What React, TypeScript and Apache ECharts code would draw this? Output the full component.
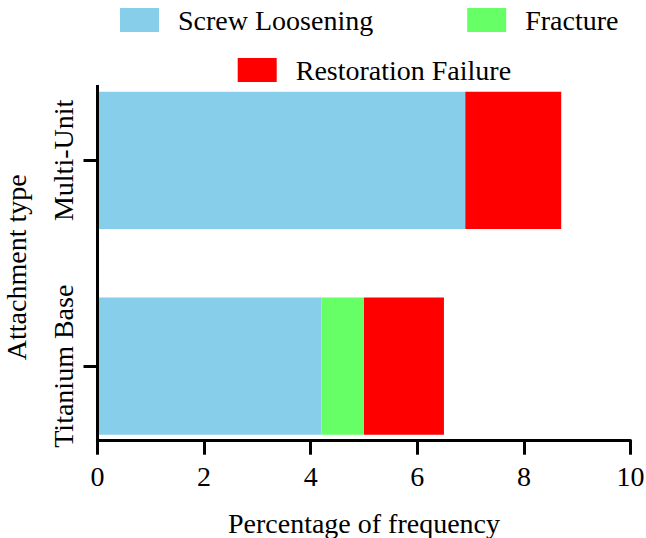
import React, { useEffect, useRef } from "react";
import * as echarts from "echarts";

const categories = ["Titanium Base", "Multi-Unit"];
const seriesNames = ["Screw Loosening", "Fracture", "Restoration Failure"];
const screwLoosening = [4.2, 6.9];
const fracture = [0.8, 0];
const restorationFailure = [1.5, 1.8];
const xTicks = { min: 0, max: 10, interval: 2 };

const FONT = "Liberation Serif";
const GRID_LEFT = 97.5;
const GRID_RIGHT = 15.5;
const GRID_TOP = 57.5;
const GRID_BOTTOM = 68.9;
const X_AXIS_Y = 440.7;
const Y_AXIS_TOP = 85;

export default function App() {
  const ref = useRef<HTMLDivElement>(null);
  useEffect(() => {
    if (!ref.current) return;
    const chart = echarts.init(ref.current, null, { renderer: "svg" });
    const gridBottomY = 538 - GRID_BOTTOM;
    const colors = ["#87CEEB", "#66FF66", "#FF0000"];
    const values = [screwLoosening, fracture, restorationFailure];
    const txt = { fontFamily: FONT, fontSize: 28, color: "#000" };
    chart.setOption({
      animation: false,
      color: colors,
      textStyle: { fontFamily: FONT },
      legend: [
        {
          data: [seriesNames[0], seriesNames[1]],
          left: 115,
          top: 1,
          itemWidth: 39,
          itemHeight: 24,
          itemGap: 94,
          icon: "rect",
          textStyle: { ...txt, padding: [4, 0, 0, 14] },
        },
        {
          data: [seriesNames[2]],
          left: 232.7,
          top: 51,
          itemWidth: 39,
          itemHeight: 24,
          icon: "rect",
          textStyle: { ...txt, padding: [4, 0, 0, 14] },
        },
      ],
      grid: {
        left: GRID_LEFT,
        right: GRID_RIGHT,
        top: GRID_TOP,
        bottom: GRID_BOTTOM,
        containLabel: false,
        outerBoundsMode: "none",
      },
      xAxis: {
        type: "value",
        min: xTicks.min,
        max: xTicks.max,
        interval: xTicks.interval,
        offset: X_AXIS_Y - gridBottomY,
        name: "Percentage of frequency",
        nameLocation: "middle",
        nameGap: 69,
        nameTextStyle: txt,
        axisLine: { show: true, lineStyle: { color: "#000", width: 3 } },
        axisTick: { show: true, length: 14, lineStyle: { color: "#000", width: 3 } },
        axisLabel: { ...txt, margin: 22 },
        splitLine: { show: false },
      },
      yAxis: {
        type: "category",
        data: categories,
        name: "Attachment type",
        nameLocation: "middle",
        nameGap: 67,
        nameTextStyle: { ...txt, padding: [0, 8, 0, 0] },
        axisLine: { show: false },
        axisTick: { show: true, alignWithLabel: true, interval: 0, length: 14, lineStyle: { color: "#000", width: 3 } },
        axisLabel: { ...txt, rotate: 90, margin: 20, interval: 0, hideOverlap: false },
      },
      graphic: [
        {
          type: "line",
          shape: { x1: GRID_LEFT, y1: Y_AXIS_TOP, x2: GRID_LEFT, y2: X_AXIS_Y + 1.5 },
          style: { stroke: "#000", lineWidth: 3 },
          z: 10,
        },
      ],
      series: seriesNames.map((name, i) => ({
        name,
        type: "bar",
        stack: "total",
        data: values[i],
        barCategoryGap: "33.3%",
        itemStyle: { color: colors[i] },
      })),
    });
    return () => chart.dispose();
  }, []);
  return <div ref={ref} style={{ width: 646, height: 538, position: "absolute", left: 0, top: 0 }} />;
}
